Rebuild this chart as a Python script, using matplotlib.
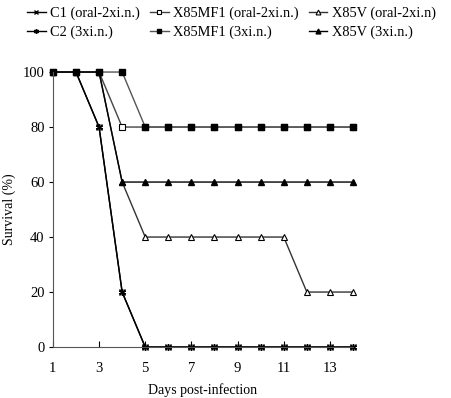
import matplotlib.pyplot as plt

plt.rcParams['font.family'] = ['Liberation Serif', 'DejaVu Serif']

days = list(range(1, 15))

# survival (%) per group
c1_oral = [100, 100, 80, 20, 0, 0, 0, 0, 0, 0, 0, 0, 0, 0]
mf1_oral = [100, 100, 100, 80, 80, 80, 80, 80, 80, 80, 80, 80, 80, 80]
v_oral = [100, 100, 100, 60, 40, 40, 40, 40, 40, 40, 40, 20, 20, 20]
c2_3x = [100, 100, 80, 20, 0, 0, 0, 0, 0, 0, 0, 0, 0, 0]
mf1_3x = [100, 100, 100, 100, 80, 80, 80, 80, 80, 80, 80, 80, 80, 80]
v_3x = [100, 100, 100, 60, 60, 60, 60, 60, 60, 60, 60, 60, 60, 60]

fig = plt.figure(figsize=(4.52, 3.98), dpi=100)
ax = fig.add_axes([0.117, 0.128, 0.664, 0.691])

kw = dict(lw=1.0, ms=5, clip_on=False)
h1, = ax.plot(days, c1_oral, color='black', marker='x', mew=1.0, label='C1 (oral-2xi.n.)', **kw)
h3, = ax.plot(days, mf1_oral, color='#444444', marker='s', mfc='white', mec='black', mew=0.8,
              label='X85MF1 (oral-2xi.n.)', **kw)
h5, = ax.plot(days, v_oral, color='#333333', marker='^', mfc='white', mec='black', mew=0.8,
              label='X85V (oral-2xi.n)', **kw)
h2, = ax.plot(days, c2_3x, color='black', marker=(6, 2, 0), mew=1.0, label='C2 (3xi.n.)', **kw)
h4, = ax.plot(days, mf1_3x, color='#555555', marker='s', mfc='black', mec='black',
              label='X85MF1 (3xi.n.)', **kw)
h6, = ax.plot(days, v_3x, color='black', marker='^', mfc='black', mec='black',
              label='X85V (3xi.n.)', **kw)

ax.set_xlim(1, 14)
ax.set_ylim(0, 100)
ax.set_xticks([1, 3, 5, 7, 9, 11, 13])
ax.set_yticks([0, 20, 40, 60, 80, 100])
ax.tick_params(axis='x', direction='in', length=4, labelsize=10.5, pad=11)
ax.tick_params(axis='y', direction='out', length=3, labelsize=10.5, pad=3)
for s in ['top', 'right']:
    ax.spines[s].set_visible(False)
for s in ['left', 'bottom']:
    ax.spines[s].set_color('#555555')

ax.set_xlabel('Days post-infection', fontsize=10, labelpad=6)
ax.set_ylabel('Survival (%)', fontsize=10, labelpad=5)

fig.legend(handles=[h1, h2, h3, h4, h5, h6], ncol=3, loc='upper left',
           bbox_to_anchor=(0.04, 1.005), frameon=False, fontsize=10.4,
           handlelength=1.3, handletextpad=0.3, columnspacing=0.7,
           labelspacing=0.4, markerscale=0.7, borderaxespad=0.2)

fig.savefig('out.png', dpi=100)
